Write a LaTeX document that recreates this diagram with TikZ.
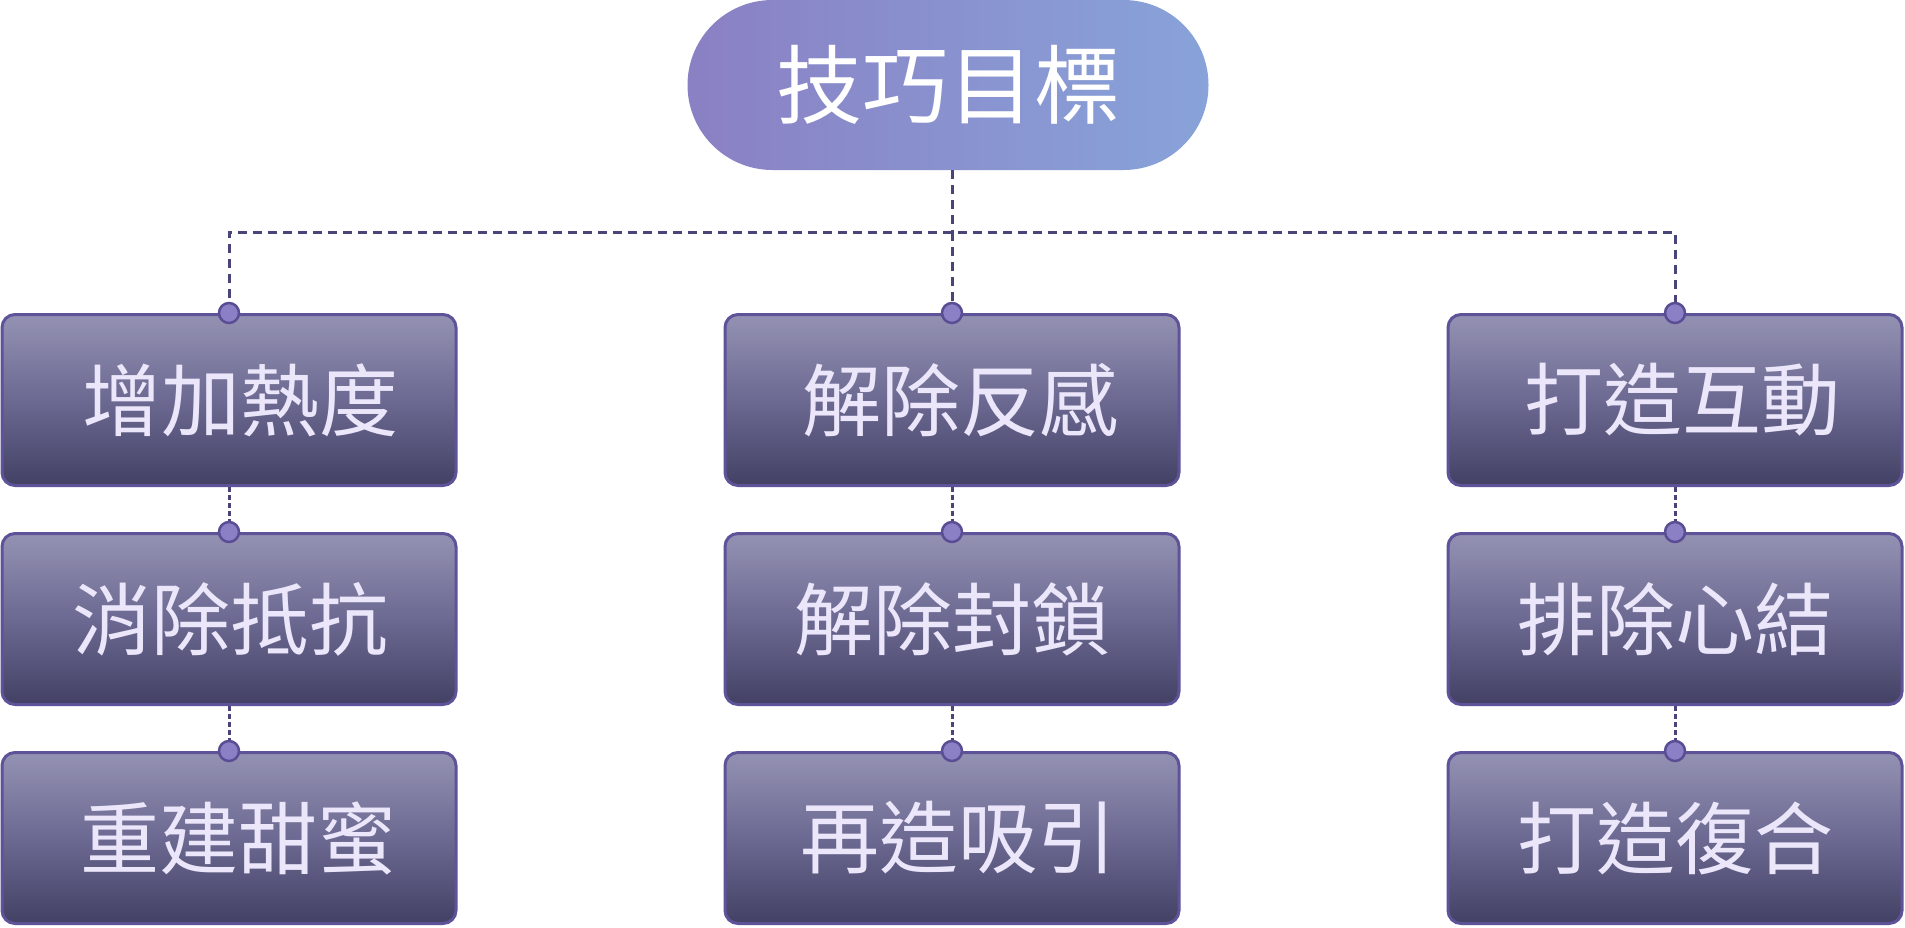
\documentclass[tikz,border=0pt]{standalone}
\usepackage{fontspec}
\newfontfamily\cjk{Noto Sans CJK TC}
\definecolor{boxtop}{HTML}{9492B3}
\definecolor{boxmid}{HTML}{6C6992}
\definecolor{boxbot}{HTML}{424164}
\definecolor{boxline}{HTML}{5E5399}
\definecolor{boxtext}{HTML}{ECE6FB}
\definecolor{pillL}{HTML}{8A80C4}
\definecolor{pillR}{HTML}{88A3D9}
\definecolor{linkcol}{HTML}{4A4578}
\definecolor{dotfill}{HTML}{8B7FC6}
\definecolor{dotline}{HTML}{5B4D94}
\tikzset{
  x=1pt,y=-1pt,
  goalbox/.style={draw=boxline, line width=3pt, rounded corners=13pt,
    minimum width=454pt, minimum height=171pt,
    top color=boxtop, bottom color=boxbot, middle color=boxmid,
    text=boxtext, font=\cjk\fontsize{79}{90}\selectfont, inner sep=0pt},
  rootpill/.style={rounded corners=85pt, minimum width=521pt, minimum height=170pt,
    left color=pillL, right color=pillR, inner sep=0pt,
    text=white, font=\cjk\fontsize{86}{96}\selectfont},
  mainlink/.style={draw=linkcol, line width=3pt, dash pattern=on 9pt off 6pt},
  sublink/.style={draw=linkcol, line width=3pt, dash pattern=on 5pt off 3pt},
  knob/.style={fill=dotfill, draw=dotline, line width=2.5pt},
}
\newcommand{\lbl}[2]{\raisebox{-6pt}{\hspace*{#1}#2}}
\begin{document}
\begin{tikzpicture}
\useasboundingbox (0,0) rectangle (1905,927);
\fill[white] (0,0) rectangle (1905,927);
% root
\node[rootpill] (root) at (948,85) {\raisebox{-4pt}{技巧目標}};
\coordinate (hub) at (952,232);
% boxes
\node[goalbox] (a1) at (229,400) {\lbl{22pt}{增加熱度}};
\node[goalbox] (a2) at (229,619) {\lbl{2pt}{消除抵抗}};
\node[goalbox] (a3) at (229,838) {\lbl{18pt}{重建甜蜜}};
\node[goalbox] (b1) at (952,400) {\lbl{16pt}{解除反感}};
\node[goalbox] (b2) at (952,619) {\lbl{0pt}{解除封鎖}};
\node[goalbox] (b3) at (952,838) {\lbl{12pt}{再造吸引}};
\node[goalbox] (c1) at (1675,400) {\lbl{14pt}{打造互動}};
\node[goalbox] (c2) at (1675,619) {\lbl{0pt}{排除心結}};
\node[goalbox] (c3) at (1675,838) {\lbl{0pt}{打造復合}};
% connectors
\draw[mainlink] (root.south -| hub) -- (hub);
\draw[mainlink] (a1.north) |- (hub) -| (c1.north);
\draw[mainlink] (hub) -- (b1.north);
\foreach \u/\v in {a1/a2,a2/a3,b1/b2,b2/b3,c1/c2,c2/c3}{
  \draw[sublink] (\u.south) -- (\v.north);
}
\foreach \n in {a1,a2,a3,b1,b2,b3,c1,c2,c3}{
  \draw[knob] (\n.north) circle[radius=10pt];
}
\end{tikzpicture}
\end{document}
